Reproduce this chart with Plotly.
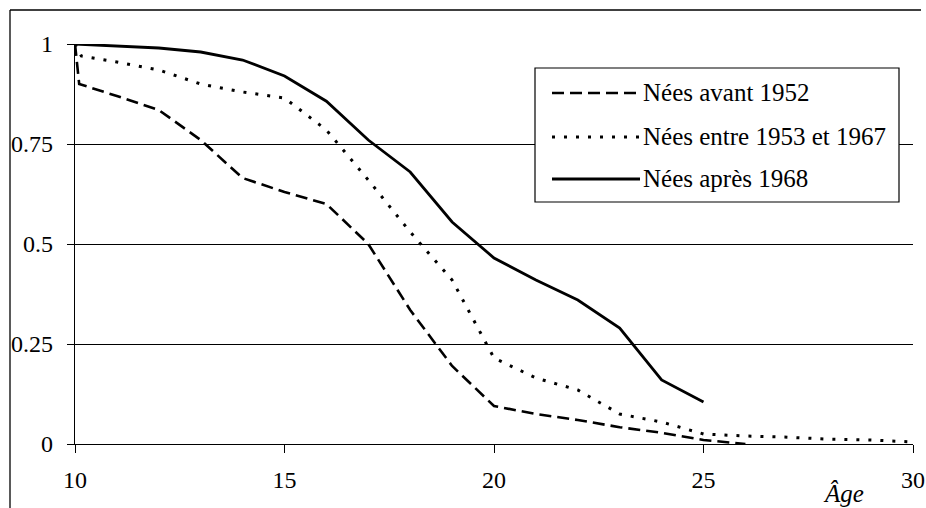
import plotly.graph_objects as go

# ---- data ----
ages_avant = [10, 10.1, 11, 12, 13, 14, 15, 16, 17, 18, 19, 20, 21, 22, 23, 24, 25, 26]
vals_avant = [1.0, 0.9, 0.87, 0.835, 0.76, 0.665, 0.63, 0.6, 0.5, 0.335, 0.195, 0.095, 0.075, 0.06, 0.042, 0.028, 0.01, 0.0]

ages_entre = [10, 10.15, 11, 12, 13, 14, 15, 16, 17, 18, 19, 20, 21, 22, 23, 24, 25, 26, 27, 28, 29, 30]
vals_entre = [1.0, 0.97, 0.955, 0.935, 0.9, 0.88, 0.865, 0.785, 0.66, 0.53, 0.41, 0.215, 0.165, 0.135, 0.075,
              0.055, 0.025, 0.02, 0.017, 0.012, 0.01, 0.005]

ages_apres = [10, 11, 12, 13, 14, 15, 16, 17, 18, 19, 20, 21, 22, 23, 24, 25]
vals_apres = [1.0, 0.995, 0.99, 0.98, 0.96, 0.92, 0.857, 0.76, 0.68, 0.555, 0.465, 0.41, 0.36, 0.29, 0.16, 0.105]

series_names = ["Nées avant 1952", "Nées entre 1953 et 1967", "Nées après 1968"]
x_tick_vals = [10, 15, 20, 25, 30]
x_tick_text = ["10", "15", "20", "25", "30"]
y_tick_vals = [0, 0.25, 0.5, 0.75, 1]
y_tick_text = ["0", "0.25", "0.5", "0.75", "1"]
x_title = "Âge"

FONT = "Liberation Serif"
DASH = "12px,6px"
DOT = "3px,9px"

fig = go.Figure()
fig.add_trace(go.Scatter(x=ages_avant, y=vals_avant, mode="lines", name=series_names[0],
                         line=dict(color="black", width=2.6, dash=DASH), showlegend=False))
fig.add_trace(go.Scatter(x=ages_entre, y=vals_entre, mode="lines", name=series_names[1],
                         line=dict(color="black", width=3, dash=DOT), showlegend=False))
fig.add_trace(go.Scatter(x=ages_apres, y=vals_apres, mode="lines", name=series_names[2],
                         line=dict(color="black", width=2.8), showlegend=False))

# pixel helpers for layout decorations (paper coords)
L, R, T, B = 75, 913, 44, 444
def px(xp):
    return (xp - L) / (R - L)
def py(yp):
    return (B - yp) / (B - T)

shapes = []
# outer frame (top and left)
shapes.append(dict(type="line", xref="paper", yref="paper", x0=px(10), x1=px(921), y0=py(10), y1=py(10),
                   line=dict(color="black", width=1.3)))
shapes.append(dict(type="line", xref="paper", yref="paper", x0=px(10), x1=px(10), y0=py(10), y1=py(510),
                   line=dict(color="black", width=1.3)))
# legend box
shapes.append(dict(type="rect", xref="paper", yref="paper", x0=px(535), x1=px(899), y0=py(68), y1=py(202),
                   line=dict(color="black", width=1.2), fillcolor="white", layer="above"))
legend_rows = [93, 137, 179]
dashes = [DASH, DOT, "solid"]
widths = [2.6, 3, 2.8]
annotations = []
for name, yr, d, w in zip(series_names, legend_rows, dashes, widths):
    shapes.append(dict(type="line", xref="paper", yref="paper", x0=px(552), x1=px(640), y0=py(yr), y1=py(yr),
                       line=dict(color="black", width=w, dash=d), layer="above"))
    annotations.append(dict(text=name, xref="paper", yref="paper", x=px(641), y=py(yr - 1),
                            xanchor="left", yanchor="middle", showarrow=False,
                            font=dict(family=FONT, size=25, color="black")))
annotations.append(dict(text="<i>" + x_title + "</i>", xref="paper", yref="paper", x=px(843), y=py(493),
                        xanchor="center", yanchor="middle", showarrow=False,
                        font=dict(family=FONT, size=25, color="black")))

fig.update_layout(
    width=926, height=508,
    margin=dict(l=L, r=926 - R, t=T, b=508 - B, autoexpand=False),
    paper_bgcolor="white", plot_bgcolor="white",
    shapes=shapes, annotations=annotations,
    showlegend=False,
)
fig.update_xaxes(range=[10, 30], tickvals=x_tick_vals, ticktext=x_tick_text, automargin=False,
                 showgrid=False, zeroline=False, showline=True, linecolor="black", linewidth=1.3,
                 ticks="outside", ticklen=8, tickcolor="black", tickwidth=1.3,
                 ticklabelstandoff=6, tickfont=dict(family=FONT, size=24, color="black"))
fig.update_yaxes(range=[0, 1], tickvals=y_tick_vals, ticktext=y_tick_text, automargin=False,
                 showgrid=True, gridcolor="black", gridwidth=1.3, zeroline=False,
                 showline=True, linecolor="black", linewidth=1.3,
                 ticks="outside", ticklen=7, tickcolor="black", tickwidth=1.3,
                 ticklabelstandoff=9, tickfont=dict(family=FONT, size=24, color="black"))

fig.write_html("out.html", config={"displayModeBar": False},
               post_script="document.body.style.margin='0';")
